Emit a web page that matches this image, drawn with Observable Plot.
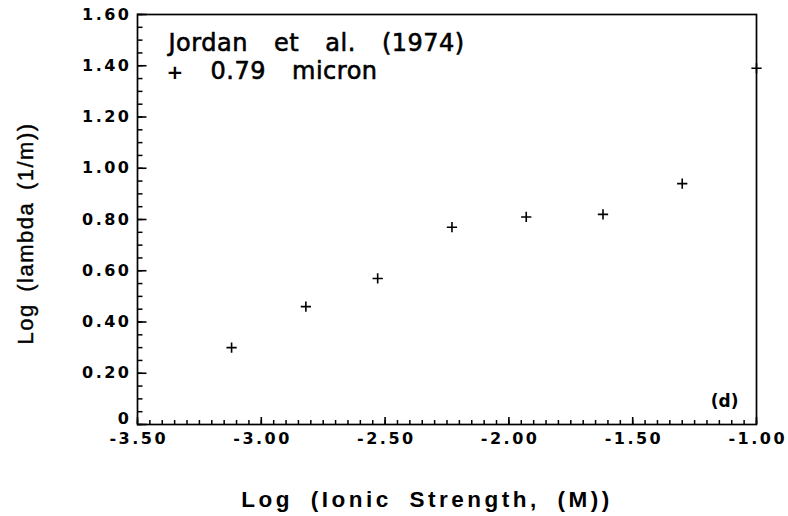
<!DOCTYPE html>
<html><head><meta charset="utf-8">
<script src="https://cdn.jsdelivr.net/npm/d3@7"></script>
<script src="https://cdn.jsdelivr.net/npm/@observablehq/plot@0.6"></script>
<style>
body{margin:0;background:#fff}
.ticklbl text{letter-spacing:2.5px}
.title text{word-spacing:18px;letter-spacing:0.5px}
.xlab text{letter-spacing:3.5px;word-spacing:8px}
.ylab text{letter-spacing:1.5px;word-spacing:4px}
</style></head><body><div id="chart"></div>
<script>
const ionicStrength = [-3.12, -2.82, -2.53, -2.23, -1.93, -1.62, -1.30, -1.00];
const logLambda     = [0.30, 0.46, 0.57, 0.77, 0.81, 0.82, 0.94, 1.39];
const xTicks = [-3.5, -3.0, -2.5, -2.0, -1.5, -1.0];
const xTickLabels = ["-3.50", "-3.00", "-2.50", "-2.00", "-1.50", "-1.00"];
const yTicks = [0, 0.2, 0.4, 0.6, 0.8, 1.0, 1.2, 1.4, 1.6];
const yTickLabels = ["0", "0.20", "0.40", "0.60", "0.80", "1.00", "1.20", "1.40", "1.60"];
const xMinor = d3.range(0, 51).map(i => -3.5 + i * 0.05);
const yMinor = d3.range(0, 33).map(i => i * 0.05);
const titleLine1 = "Jordan et al. (1974)";
const legendSymbol = "+";
const legendText = "0.79 micron";
const panelTag = "(d)";
const xLabel = "Log (Ionic Strength, (M))";
const yLabel = "Log (lambda (1/m))";

const W = 788, H = 516, ML = 137, MR = 32, MT = 14, MB = 92;
const xDomain = [-3.5, -1.0], yDomain = [0, 1.6];
const frameW = W - ML - MR, frameH = H - MT - MB;
const pxY = (yDomain[1] - yDomain[0]) / frameH;   // data units per pixel (y)
const pxX = (xDomain[1] - xDomain[0]) / frameW;   // data units per pixel (x)
const rows = ionicStrength.map((x, i) => ({x, y: logLambda[i]}));
const yTicksUpper = yTicks.filter(d => d !== 0);
const yLab = d => yTickLabels[yTicks.indexOf(d)];

const chart = Plot.plot({
  width: W, height: H,
  marginLeft: ML, marginRight: MR, marginTop: MT, marginBottom: MB,
  style: {background: "#fff", color: "#000", fontFamily: "DejaVu Sans", overflow: "visible"},
  x: {domain: xDomain, axis: null},
  y: {domain: yDomain, axis: null},
  marks: [
    // inward minor and major ticks
    Plot.ruleX(xMinor, {x: d => d, y1: yDomain[0], y2: yDomain[0] + 4 * pxY, stroke: "#000", strokeWidth: 1.5}),
    Plot.ruleX(xTicks, {x: d => d, y1: yDomain[0], y2: yDomain[0] + 7 * pxY, stroke: "#000", strokeWidth: 1.6}),
    Plot.ruleY(yMinor, {y: d => d, x1: xDomain[0], x2: xDomain[0] + 5.5 * pxX, stroke: "#000", strokeWidth: 1.5}),
    Plot.ruleY(yTicks, {y: d => d, x1: xDomain[0], x2: xDomain[0] + 9.5 * pxX, stroke: "#000", strokeWidth: 1.6}),
    Plot.axisX(xTicks, {anchor: "bottom", tickSize: 0, tickPadding: 8, dx: 1.25,
      tickFormat: d => xTickLabels[xTicks.indexOf(d)], label: null,
      fontSize: 16, fontWeight: "bold", className: "ticklbl"}),
    Plot.axisY(yTicksUpper, {anchor: "left", tickSize: 0, tickPadding: 6,
      tickFormat: yLab, label: null, fontSize: 16, fontWeight: "bold", className: "ticklbl"}),
    Plot.axisY([0], {anchor: "left", tickSize: 0, tickPadding: 6, dy: -6,
      tickFormat: yLab, label: null, fontSize: 16, fontWeight: "bold", className: "ticklbl"}),
    Plot.frame({stroke: "#000", strokeWidth: 1.7}),
    Plot.dot(rows, {x: "x", y: "y", symbol: "plus", r: 3.4, stroke: "#000", strokeWidth: 1.6}),
    Plot.text([titleLine1], {frameAnchor: "top-left", dx: 31, dy: 36, lineAnchor: "bottom",
      textAnchor: "start", fontSize: 24, fill: "#000", stroke: "#000", strokeWidth: 0.6, className: "title"}),
    Plot.text([legendSymbol], {frameAnchor: "top-left", dx: 29, dy: 64, lineAnchor: "bottom",
      textAnchor: "start", fontSize: 20, fontWeight: "bold", fill: "#000"}),
    Plot.text([legendText], {frameAnchor: "top-left", dx: 73, dy: 64, lineAnchor: "bottom",
      textAnchor: "start", fontSize: 24, fill: "#000", stroke: "#000", strokeWidth: 0.6, className: "title"}),
    Plot.text([panelTag], {frameAnchor: "bottom-right", dx: -18, dy: -18, lineAnchor: "bottom",
      textAnchor: "end", fontSize: 17, fontWeight: "bold", fill: "#000"}),
    Plot.text([xLabel], {frameAnchor: "bottom", dx: -20, dy: 82, lineAnchor: "bottom",
      textAnchor: "middle", fontSize: 22.5, fontWeight: "bold", fontFamily: "Liberation Sans", fill: "#000", className: "xlab"}),
    Plot.text([yLabel], {frameAnchor: "left", dx: -105, dy: 14, rotate: -90, lineAnchor: "bottom",
      textAnchor: "middle", fontSize: 22, fontFamily: "Liberation Sans", fill: "#000", stroke: "#000", strokeWidth: 0.4, className: "ylab"})
  ]
});
document.getElementById("chart").appendChild(chart);
</script>
</body></html>
